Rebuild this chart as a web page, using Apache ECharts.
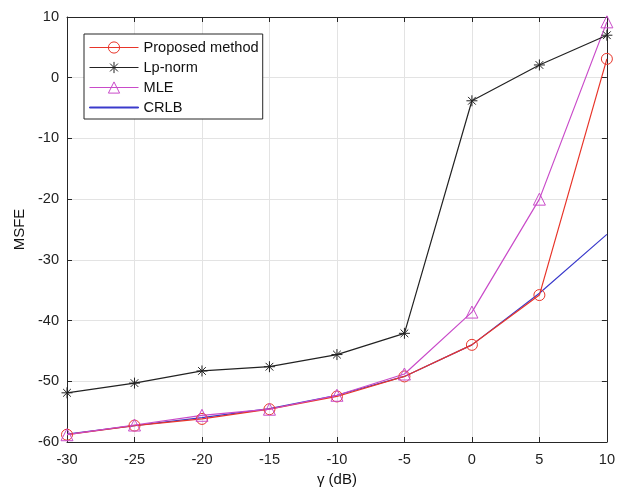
<!DOCTYPE html>
<html>
<head>
<meta charset="utf-8">
<script src="https://cdn.jsdelivr.net/npm/echarts@6/dist/echarts.min.js"></script>
<style>
  html, body { margin: 0; padding: 0; background: #fff; }
  #chart { width: 618px; height: 495px; }
</style>
</head>
<body>
<div id="chart"></div>
<script>
// values
var gammaDb = [-30, -25, -20, -15, -10, -5, 0, 5, 10];
var proposed = [-58.8, -57.3, -56.2, -54.6, -52.5, -49.2, -44.0, -35.8, 3.1];
var lpNorm = [-51.9, -50.3, -48.3, -47.6, -45.6, -42.1, -3.8, 2.1, 7.0];
var mle = [-58.8, -57.2, -55.6, -54.6, -52.3, -48.8, -38.6, -20.0, 9.2];
var crlb = [-58.7, -57.3, -56.0, -54.5, -52.3, -49.2, -44.0, -35.5, -25.8];
var xTicks = [-30, -25, -20, -15, -10, -5, 0, 5, 10];
var yTicks = [-60, -50, -40, -30, -20, -10, 0, 10];

var font = '"Liberation Sans", Arial, sans-serif';
var axisCol = '#262626';
var crlbCol = '#3a3acb';
var asterisk = 'path://M0,-10L0,10M-10,0L10,0M-7,-7L7,7M-7,7L7,-7';
var plainLine = 'path://M0,0L49,0L49,1L0,1Z';

function pairs(ys) {
    var out = [];
    for (var i = 0; i < gammaDb.length; i++) out.push([gammaDb[i], ys[i]]);
    return out;
}

var chart = echarts.init(document.getElementById('chart'));

var baseX = {
    type: 'value', min: -30, max: 10, interval: 5,
    axisLine: { show: true, onZero: false, lineStyle: { color: axisCol, width: 1 } },
    axisTick: { show: true, inside: true, length: 5, lineStyle: { color: axisCol } },
    splitLine: { show: true, lineStyle: { color: '#e3e3e3', width: 1 } }
};
var baseY = {
    type: 'value', min: -60, max: 10, interval: 10,
    axisLine: { show: true, onZero: false, lineStyle: { color: axisCol, width: 1 } },
    axisTick: { show: true, inside: true, length: 5, lineStyle: { color: axisCol } },
    splitLine: { show: true, lineStyle: { color: '#e3e3e3', width: 1 } }
};

chart.setOption({
    backgroundColor: '#fff',
    animation: false,
    grid: { left: 67, top: 17, right: 11, bottom: 53 },
    legend: {
        orient: 'vertical',
        left: 84, top: 34,
        padding: [6, 4, 4, 5],
        itemWidth: 49, itemHeight: 14, itemGap: 5,
        backgroundColor: '#fff',
        borderColor: axisCol, borderWidth: 1, borderRadius: 0,
        lineStyle: { width: 1 },
        itemStyle: { borderWidth: 1 },
        textStyle: { fontFamily: font, fontSize: 14.6, color: '#111' },
        data: ['Proposed method', 'Lp-norm', 'MLE', {
            name: 'CRLB', icon: plainLine,
            itemStyle: { color: crlbCol, borderColor: crlbCol },
            lineStyle: { color: crlbCol, width: 1 }
        }]
    },
    xAxis: [
        Object.assign({}, baseX, {
            position: 'bottom',
            name: 'γ (dB)', nameLocation: 'middle', nameGap: 28,
            nameTextStyle: { fontFamily: font, fontSize: 15, color: '#111' },
            axisLabel: { margin: 10, fontFamily: font, fontSize: 14.6, color: '#222',
                formatter: function (v) { return xTicks.indexOf(v) >= 0 ? v : ''; } }
        }),
        Object.assign({}, baseX, { position: 'top', axisLabel: { show: false }, splitLine: { show: false } })
    ],
    yAxis: [
        Object.assign({}, baseY, {
            position: 'left',
            name: 'MSFE', nameLocation: 'middle', nameGap: 38, nameRotate: 90,
            nameTextStyle: { fontFamily: font, fontSize: 15, color: '#111' },
            axisLabel: { margin: 8, fontFamily: font, fontSize: 14.6, color: '#222',
                formatter: function (v) { return yTicks.indexOf(v) >= 0 ? v : ''; } }
        }),
        Object.assign({}, baseY, { position: 'right', axisLabel: { show: false }, splitLine: { show: false } })
    ],
    series: [
        {
            name: 'CRLB', type: 'line', data: pairs(crlb), z: 3,
            symbol: 'none',
            lineStyle: { color: crlbCol, width: 1.2 },
            itemStyle: { color: crlbCol }
        },
        {
            name: 'Proposed method', type: 'line', data: pairs(proposed), z: 4,
            symbol: 'circle', symbolSize: 11, showAllSymbol: true,
            lineStyle: { color: '#e8352a', width: 1.2 },
            itemStyle: { color: 'rgba(0,0,0,0)', borderColor: '#e8352a', borderWidth: 1 }
        },
        {
            name: 'Lp-norm', type: 'line', data: pairs(lpNorm), z: 5,
            symbol: asterisk, symbolSize: 11, showAllSymbol: true,
            lineStyle: { color: '#222', width: 1.2 },
            itemStyle: { color: '#222', borderColor: '#222', borderWidth: 1 }
        },
        {
            name: 'MLE', type: 'line', data: pairs(mle), z: 4,
            symbol: 'triangle', symbolSize: 12, showAllSymbol: true,
            lineStyle: { color: '#c94bc9', width: 1.2 },
            itemStyle: { color: 'rgba(0,0,0,0)', borderColor: '#c94bc9', borderWidth: 1 }
        }
    ]
});
</script>
</body>
</html>
